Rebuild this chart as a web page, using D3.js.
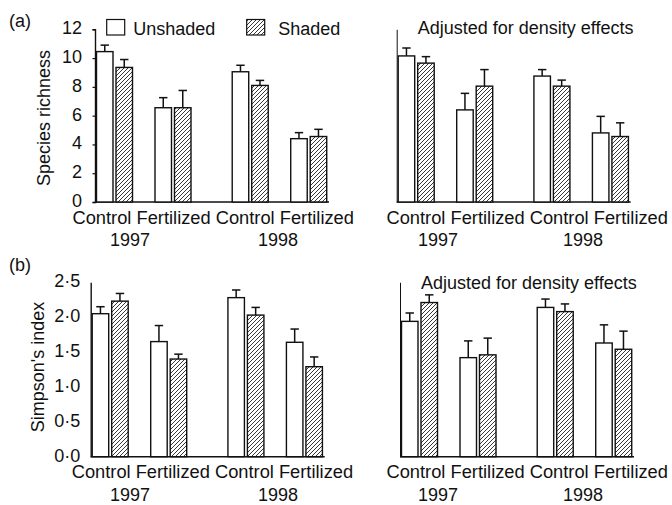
<!DOCTYPE html>
<html>
<head>
<meta charset="utf-8">
<script src="https://cdn.jsdelivr.net/npm/d3@7"></script>
<style>
  body { margin: 0; background: #fff; }
  text { font-family: "Liberation Sans", Arial, Helvetica, sans-serif; font-size: 18px; fill: #111; }
</style>
</head>
<body>
<svg id="chart" width="672" height="505"></svg>
<script>
// category labels
var categories = ["Control", "Fertilized", "Control", "Fertilized"];
var yearOf = [0, 0, 1, 1];
var years = ["1997", "1998"];
var seriesNames = ["Unshaded", "Shaded"];

// (a) species richness
var richUnshaded = [10.45, 6.55, 9.05, 4.4];
var richUnshadedErr = [0.45, 0.7, 0.45, 0.42];
var richShaded = [9.35, 6.55, 8.1, 4.55];
var richShadedErr = [0.55, 1.2, 0.35, 0.5];
var richAdjUnshaded = [10.15, 6.4, 8.75, 4.8];
var richAdjUnshadedErr = [0.55, 1.15, 0.45, 1.15];
var richAdjShaded = [9.65, 8.05, 8.05, 4.55];
var richAdjShadedErr = [0.45, 1.15, 0.42, 0.95];
var richTicks = [0, 2, 4, 6, 8, 10, 12];

// (b) Simpson's index
var simpUnshaded = [2.05, 1.65, 2.28, 1.64];
var simpUnshadedErr = [0.1, 0.23, 0.11, 0.19];
var simpShaded = [2.23, 1.40, 2.03, 1.29];
var simpShadedErr = [0.11, 0.07, 0.11, 0.14];
var simpAdjUnshaded = [1.94, 1.42, 2.14, 1.63];
var simpAdjUnshadedErr = [0.12, 0.24, 0.12, 0.26];
var simpAdjShaded = [2.21, 1.46, 2.08, 1.54];
var simpAdjShadedErr = [0.11, 0.24, 0.11, 0.26];
var simpTicks = [0, 0.5, 1, 1.5, 2, 2.5];

var svg = d3.select("#chart");

// hatch pattern for the shaded bars
var pat = svg.append("defs").append("pattern")
    .attr("id", "hatch")
    .attr("patternUnits", "userSpaceOnUse")
    .attr("width", 4)
    .attr("height", 4);
pat.append("rect").attr("width", 4).attr("height", 4).attr("fill", "#fff");
pat.append("path")
    .attr("d", "M-1,1 l2,-2 M0,4 l4,-4 M3,5 l2,-2")
    .attr("stroke", "#222")
    .attr("stroke-width", 0.9);

var barW = 16.5, pairOff = 19.5, slotW = 58.5, yearGap = 0.32, axisLen = 234;

function drawPanel(p) {
  var g = svg.append("g");
  var y = d3.scaleLinear().domain(p.domain).range([p.base, p.top]);
  var slot = d3.scaleLinear().domain([0, 1]).range([p.axisX + 1.5, p.axisX + 1.5 + slotW]);
  var groupX = function(i) { return slot(i + yearGap * yearOf[i]); };

  // y axis
  var axis = d3.axisLeft(y).tickSizeOuter(0);
  if (p.showTicks) {
    axis.tickValues(p.ticks).tickSize(p.tickSize).tickPadding(p.tickPad)
        .tickFormat(function(d) { return p.fmt(d); });
  } else {
    axis.tickValues([]);
  }
  var ax = g.append("g").attr("transform", "translate(" + p.axisX + ",0)").call(axis);
  ax.select(".domain").attr("stroke", "#111").attr("stroke-width", p.axisW);
  ax.selectAll(".tick line").attr("stroke", "#111").attr("stroke-width", 1.2);
  ax.selectAll(".tick text").style("font-size", "18px").attr("fill", "#111")
      .attr("dy", "0.25em")
      .style("font-family", '"Liberation Sans", Arial, sans-serif');

  // baseline
  g.append("line")
      .attr("x1", p.axisX).attr("x2", p.axisX + axisLen)
      .attr("y1", y(0)).attr("y2", y(0))
      .attr("stroke", "#111").attr("stroke-width", 1.5);

  // bars + error bars
  p.series.forEach(function(s, k) {
    var bx = function(i) { return groupX(i) + k * pairOff; };
    g.selectAll(null).data(s.vals).enter().append("line")
        .attr("x1", function(d, i) { return bx(i) + barW / 2; })
        .attr("x2", function(d, i) { return bx(i) + barW / 2; })
        .attr("y1", function(d) { return y(d); })
        .attr("y2", function(d, i) { return y(d + s.err[i]); })
        .attr("stroke", "#111").attr("stroke-width", 1.5);
    g.selectAll(null).data(s.vals).enter().append("line")
        .attr("x1", function(d, i) { return bx(i) + barW / 2 - 4.2; })
        .attr("x2", function(d, i) { return bx(i) + barW / 2 + 4.2; })
        .attr("y1", function(d, i) { return y(d + s.err[i]); })
        .attr("y2", function(d, i) { return y(d + s.err[i]); })
        .attr("stroke", "#111").attr("stroke-width", 1.5);
    g.selectAll(null).data(s.vals).enter().append("rect")
        .attr("x", function(d, i) { return bx(i); })
        .attr("y", function(d) { return y(d); })
        .attr("width", barW)
        .attr("height", function(d) { return y(0) - y(d); })
        .attr("fill", k === 0 ? "#fff" : "url(#hatch)")
        .attr("stroke", "#111").attr("stroke-width", 1.4);
  });

  // category labels, set as one line of text
  g.append("text")
      .attr("x", p.labelX).attr("y", y(0) + 21.5)
      .attr("xml:space", "preserve")
      .style("font-size", "18.3px")
      .text(categories.join(" "));
  g.selectAll(null).data(years).enter().append("text")
      .attr("x", function(d, i) { return p.yearX[i]; })
      .attr("y", y(0) + 44)
      .attr("text-anchor", "middle")
      .text(function(d) { return d; });

  if (p.title) {
    g.append("text").attr("x", p.axisX + 21).attr("y", p.titleY).text(p.title);
  }
  return y;
}

var dotFmt = function(d) { return d.toFixed(1).replace(".", "\u00b7"); };

drawPanel({
  axisX: 95, base: 202, top: 29.3, domain: [0, 12], showTicks: true, ticks: richTicks,
  tickSize: 2.5, tickPad: 10.5, fmt: d3.format("d"), axisW: 1.4,
  series: [{ vals: richUnshaded, err: richUnshadedErr }, { vals: richShaded, err: richShadedErr }],
  labelX: 72.5, yearX: [130, 278]
});
drawPanel({
  axisX: 396.7, base: 202, top: 29.3, domain: [0, 12], showTicks: false, axisW: 1,
  series: [{ vals: richAdjUnshaded, err: richAdjUnshadedErr }, { vals: richAdjShaded, err: richAdjShadedErr }],
  labelX: 386.5, yearX: [438, 583],
  title: "Adjusted for density effects", titleY: 34
});
drawPanel({
  axisX: 90.7, base: 456.7, top: 282.3, domain: [0, 2.5], showTicks: true, ticks: simpTicks,
  tickSize: 0, tickPad: 10.5, fmt: dotFmt, axisW: 1.4,
  series: [{ vals: simpUnshaded, err: simpUnshadedErr }, { vals: simpShaded, err: simpShadedErr }],
  labelX: 71.7, yearX: [130, 278]
});
drawPanel({
  axisX: 400, base: 456.7, top: 282.3, domain: [0, 2.5], showTicks: false, axisW: 1,
  series: [{ vals: simpAdjUnshaded, err: simpAdjUnshadedErr }, { vals: simpAdjShaded, err: simpAdjShadedErr }],
  labelX: 386.5, yearX: [438, 583],
  title: "Adjusted for density effects", titleY: 289
});

// panel letters and y titles
svg.append("text").attr("x", 9).attr("y", 27).text("(a)");
svg.append("text").attr("x", 9).attr("y", 271).text("(b)");
svg.append("text").attr("transform", "translate(50,118) rotate(-90)")
    .attr("text-anchor", "middle").text("Species richness");
svg.append("text").attr("transform", "translate(44,367) rotate(-90)")
    .attr("text-anchor", "middle").text("Simpson's index");

// legend
var leg = svg.append("g");
var legX = [106.7, 246.7];
seriesNames.forEach(function(name, k) {
  leg.append("rect").attr("x", legX[k]).attr("y", 19.5).attr("width", 18).attr("height", 15.5)
      .attr("fill", k === 0 ? "#fff" : "url(#hatch)").attr("stroke", "#111").attr("stroke-width", 1.2);
  leg.append("text").attr("x", legX[k] + (k === 0 ? 26.5 : 31.5)).attr("y", 34.5).text(name);
});
</script>
</body>
</html>
